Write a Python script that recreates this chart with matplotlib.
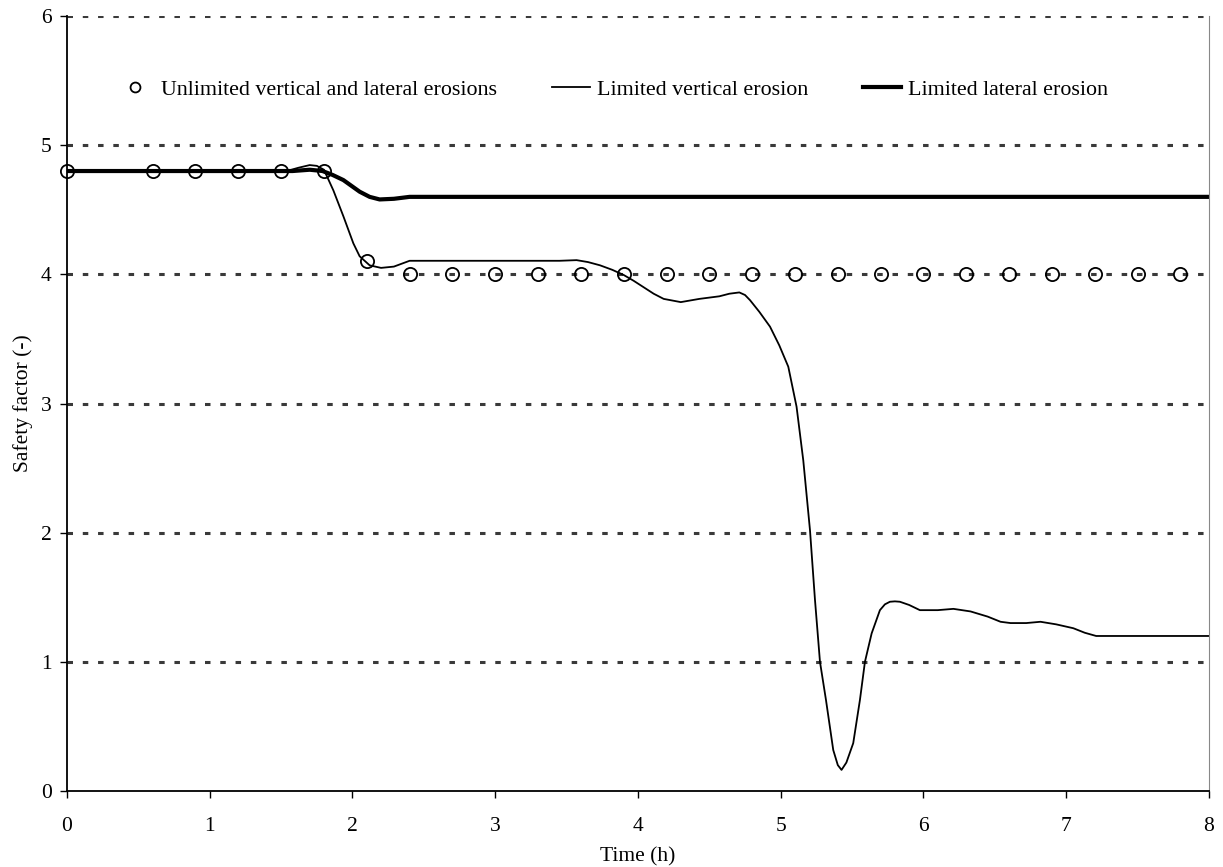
import numpy as np
import matplotlib.pyplot as plt

plt.rcParams['font.family'] = ['Liberation Serif', 'DejaVu Serif']

# unlimited vertical and lateral erosions (markers)
t_unl = [0, 0.6, 0.9, 1.2, 1.5, 1.8, 2.1, 2.4, 2.7, 3.0, 3.3, 3.6, 3.9, 4.2, 4.5,
         4.8, 5.1, 5.4, 5.7, 6.0, 6.3, 6.6, 6.9, 7.2, 7.5, 7.8]
sf_unl = [4.8, 4.8, 4.8, 4.8, 4.8, 4.8, 4.1, 4.0, 4.0, 4.0, 4.0, 4.0, 4.0, 4.0, 4.0,
          4.0, 4.0, 4.0, 4.0, 4.0, 4.0, 4.0, 4.0, 4.0, 4.0, 4.0]

# limited vertical erosion (thin line)
t_vert = [0, 1.45, 1.54, 1.62, 1.70, 1.75, 1.80, 1.866, 1.936, 2.006, 2.05, 2.12,
          2.20, 2.29, 2.40, 3.0, 3.45, 3.57, 3.65, 3.734, 3.82, 3.90, 3.97, 4.04,
          4.11, 4.18, 4.30, 4.43, 4.57, 4.64, 4.71, 4.75, 4.785, 4.85, 4.925, 4.99,
          5.053, 5.111, 5.158, 5.205, 5.24, 5.275, 5.317, 5.368, 5.40, 5.426, 5.46,
          5.508, 5.555, 5.59, 5.637, 5.695, 5.73, 5.765, 5.80, 5.835, 5.90, 5.975,
          6.1, 6.21, 6.33, 6.45, 6.54, 6.61, 6.72, 6.82, 6.93, 7.05, 7.13, 7.21,
          7.4, 8.0]
sf_vert = [4.8, 4.8, 4.80, 4.825, 4.846, 4.84, 4.81, 4.65, 4.45, 4.24, 4.14, 4.07,
           4.05, 4.06, 4.105, 4.105, 4.105, 4.11, 4.095, 4.07, 4.035, 3.995, 3.95,
           3.90, 3.85, 3.81, 3.785, 3.81, 3.83, 3.85, 3.86, 3.84, 3.80, 3.71, 3.595,
           3.45, 3.285, 2.975, 2.56, 2.02, 1.48, 1.0, 0.705, 0.317, 0.20, 0.163, 0.22,
           0.37, 0.705, 1.0, 1.22, 1.40, 1.445, 1.465, 1.468, 1.465, 1.44, 1.40,
           1.40, 1.41, 1.39, 1.35, 1.31, 1.30, 1.30, 1.31, 1.29, 1.26, 1.225, 1.20,
           1.2, 1.2]

# limited lateral erosion (thick line)
t_lat = [0, 1.58, 1.70, 1.79, 1.86, 1.936, 2.05, 2.12, 2.19, 2.29, 2.40, 8.0]
sf_lat = [4.8, 4.8, 4.81, 4.80, 4.77, 4.73, 4.64, 4.60, 4.58, 4.585, 4.60, 4.60]

fig = plt.figure(figsize=(12.23, 8.67), dpi=100)
ax = fig.add_axes([0.0548, 0.0877, 0.9337, 0.8938])

for yv in [1, 2, 3, 4, 5, 6]:
    ax.axhline(yv, color='#3a3a3a', lw=2.2, linestyle=(0, (1.8, 3.2)), zorder=1)

ax.plot(t_unl, sf_unl, 'o', mfc='none', mec='black', ms=9.5, mew=1.3,
        label='Unlimited vertical and lateral erosions', zorder=3, clip_on=False)
ax.plot(t_vert, sf_vert, '-', color='black', lw=1.3, solid_joinstyle='round',
        label='Limited vertical erosion', zorder=2)
ax.plot(t_lat, sf_lat, '-', color='black', lw=3, solid_joinstyle='round',
        label='Limited lateral erosion', zorder=2)

ax.set_xlim(0, 8)
ax.set_ylim(0, 6)
ax.set_xticks(range(0, 9))
ax.set_yticks(range(0, 7))
ax.tick_params(direction='out', length=5, labelsize=15.5, width=1)
ax.tick_params(axis='x', pad=14)
ax.tick_params(axis='y', pad=6)
ax.spines['top'].set_visible(False)
ax.spines['right'].set_color('#888888')
ax.spines['left'].set_linewidth(1.3)
ax.spines['bottom'].set_linewidth(1.3)

ax.set_xlabel('Time (h)', fontsize=15.5, labelpad=8)
ax.set_ylabel('Safety factor (-)', fontsize=15.5, labelpad=6)

leg = ax.legend(loc='center left', bbox_to_anchor=(0.026, 0.905), ncol=3, frameon=False,
                fontsize=15.8, handlelength=1.7, handletextpad=0.35, columnspacing=2.5,
                markerscale=0.75)

fig.savefig('out.png', dpi=100)
